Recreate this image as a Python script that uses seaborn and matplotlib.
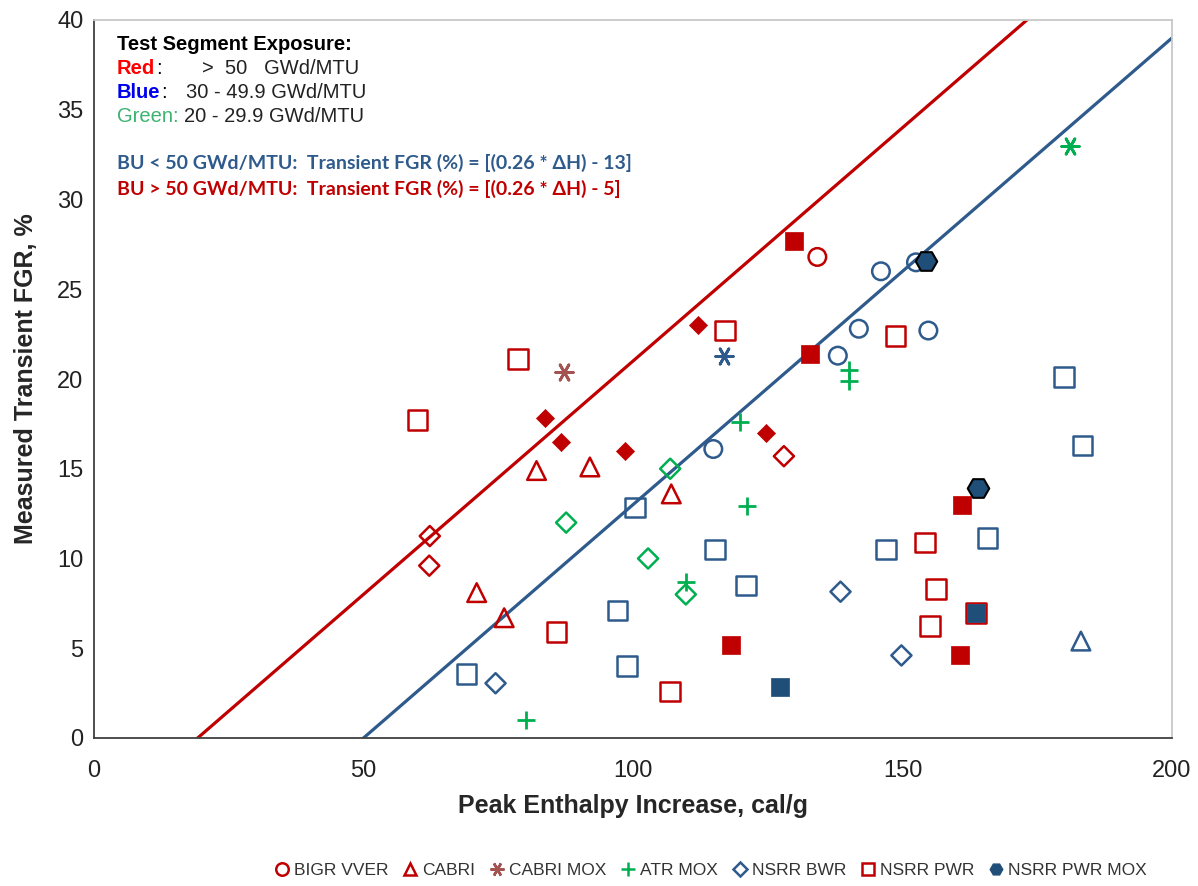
import numpy as np
import pandas as pd
import matplotlib
matplotlib.use("Agg")
import matplotlib.pyplot as plt
from matplotlib.lines import Line2D
import seaborn as sns

# ---------------- data ----------------
# exposure code: R = >50, B = 30-49.9, G = 20-29.9 GWd/MTU
bigr_x = [134.2, 146.0, 152.5, 141.9, 138.0, 154.8, 114.9]
bigr_y = [26.8, 26.0, 26.5, 22.8, 21.3, 22.7, 16.1]
bigr_c = ["R", "B", "B", "B", "B", "B", "B"]

cabri_x = [82.1, 92.0, 107.1, 71.0, 76.1, 183.1]
cabri_y = [14.9, 15.1, 13.6, 8.1, 6.7, 5.4]
cabri_c = ["R", "R", "R", "R", "R", "B"]

cabrimox_x = [87.2, 116.9, 181.1]
cabrimox_y = [20.4, 21.3, 33.0]
cabrimox_c = ["M", "B", "G"]

atr_x = [119.9, 121.2, 109.8, 80.1, 140.1, 140.1]
atr_y = [17.6, 12.9, 8.7, 1.0, 20.5, 19.9]
atr_c = ["G", "G", "G", "G", "G", "G"]

bwr_x = [62.3, 62.2, 128.0, 106.9, 87.6, 102.8, 109.8, 74.5, 138.5, 149.8]
bwr_y = [11.25, 9.6, 15.7, 15.0, 12.0, 10.0, 8.0, 3.05, 8.15, 4.6]
bwr_c = ["R", "R", "R", "G", "G", "G", "G", "B", "B", "B"]

pwr_x = [60.0, 78.7, 117.1, 148.7, 85.8, 106.9, 154.2, 156.2, 155.1, 163.6,
         100.4, 115.2, 121.0, 97.1, 69.1, 98.9, 146.9, 165.8, 180.0, 183.4]
pwr_y = [17.7, 21.1, 22.7, 22.4, 5.9, 2.6, 10.9, 8.3, 6.25, 6.95,
         12.85, 10.5, 8.5, 7.1, 3.55, 4.0, 10.5, 11.15, 20.1, 16.3]
pwr_c = ["R", "R", "R", "R", "R", "R", "R", "R", "R", "R",
         "B", "B", "B", "B", "B", "B", "B", "B", "B", "B"]

# filled symbols (not in legend)
fsq_x = [129.9, 132.8, 118.1, 161.0, 160.7, 127.3, 163.6]
fsq_y = [27.7, 21.4, 5.2, 13.0, 4.65, 2.85, 6.95]
fsq_c = ["R", "R", "R", "R", "R", "B", "B"]

fdi_x = [112.1, 83.7, 86.6, 98.6, 124.7]
fdi_y = [23.0, 17.8, 16.5, 16.0, 17.0]
fdi_c = ["R", "R", "R", "R", "R"]

pwrmox_x = [154.4, 164.1]
pwrmox_y = [26.6, 13.9]

# correlation lines: FGR = slope * dH + intercept
line_slope = 0.26
line_int_low = -13   # BU < 50
line_int_high = -5   # BU > 50

legend_labels = ["BIGR VVER", "CABRI", "CABRI MOX", "ATR MOX", "NSRR BWR",
                 "NSRR PWR", "NSRR PWR MOX"]

# ---------------- styling ----------------
RED = "#C00000"
BLUE = "#2E5A8C"
DBLUE = "#1F4E79"
GREEN = "#00B050"
MOXRED = "#A35450"
colmap = {"R": RED, "B": BLUE, "G": GREEN, "M": MOXRED}

sns.set_theme(style="white")
plt.rcParams["font.family"] = ["Liberation Sans", "DejaVu Sans"]

W, H = 1198, 886
fig = plt.figure(figsize=(W / 100, H / 100), dpi=100)
ax = fig.add_axes([94 / W, 1 - 738 / H, (1172 - 94) / W, (738 - 20) / H])


def open_series(xs, ys, cs, marker, s, lw=2.0):
    df = pd.DataFrame({"x": xs, "y": ys, "c": cs})
    for code, g in df.groupby("c"):
        sns.scatterplot(data=g, x="x", y="y", marker=marker, s=s,
                        facecolor="none", edgecolor=colmap[code],
                        linewidth=lw, ax=ax, legend=False, zorder=3)


def line_series(xs, ys, cs, marker, s, lw=2.0):
    df = pd.DataFrame({"x": xs, "y": ys, "c": cs})
    for code, g in df.groupby("c"):
        sns.scatterplot(data=g, x="x", y="y", marker=marker, s=s,
                        color=colmap[code], linewidth=lw, ax=ax,
                        legend=False, zorder=3)


def filled_series(xs, ys, cs, marker, s):
    df = pd.DataFrame({"x": xs, "y": ys, "c": cs})
    for code, g in df.groupby("c"):
        c = DBLUE if code == "B" else colmap[code]
        sns.scatterplot(data=g, x="x", y="y", marker=marker, s=s,
                        color=c, edgecolor=c, linewidth=0.5, ax=ax,
                        legend=False, zorder=4)


# lines
hh = np.linspace(0, 200, 401)
sns.lineplot(x=hh, y=line_slope * hh + line_int_high, color=RED, linewidth=2.3,
             ax=ax, zorder=2)
sns.lineplot(x=hh, y=line_slope * hh + line_int_low, color=BLUE, linewidth=2.3,
             ax=ax, zorder=2)

open_series(bigr_x, bigr_y, bigr_c, "o", 160, 1.8)
open_series(cabri_x, cabri_y, cabri_c, "^", 180, 1.8)
line_series(cabrimox_x, cabrimox_y, cabrimox_c, (6, 2, 90), 160, 2.0)
line_series(atr_x, atr_y, atr_c, "+", 180, 2.0)
open_series(bwr_x, bwr_y, bwr_c, "D", 105, 1.8)
open_series(pwr_x, pwr_y, pwr_c, "s", 200, 1.8)
filled_series(fsq_x, fsq_y, fsq_c, "s", 180)
filled_series(fdi_x, fdi_y, fdi_c, "D", 85)
sns.scatterplot(x=pwrmox_x, y=pwrmox_y, marker="H", s=240, color=DBLUE,
                edgecolor="black", linewidth=1.5, ax=ax, legend=False, zorder=5)

# axes
ax.set_xlim(0, 200)
ax.set_ylim(0, 40)
ax.set_xticks(np.arange(0, 201, 50))
ax.set_yticks(np.arange(0, 41, 5))
ax.set_xticks(np.arange(0, 201, 10), minor=True)
ax.set_yticks(np.arange(0, 41, 1), minor=True)
ax.tick_params(axis="both", which="major", direction="inout", length=9,
               width=1.0, color="#404040", labelsize=17, labelcolor="#222222")
ax.tick_params(axis="both", which="minor", direction="in", length=5,
               width=1.0, color="#404040")
ax.tick_params(axis="x", pad=11)
ax.tick_params(axis="y", pad=3)
for sp in ["left", "bottom"]:
    ax.spines[sp].set_color("#404040")
    ax.spines[sp].set_linewidth(1.3)
for sp in ["top", "right"]:
    ax.spines[sp].set_color("#C8C8C8")
    ax.spines[sp].set_linewidth(1.3)
ax.grid(False)

ax.set_xlabel("Peak Enthalpy Increase, cal/g", fontsize=18, fontweight="bold",
              labelpad=9)
ax.set_ylabel("Measured Transient FGR, %", fontsize=18, fontweight="bold",
              labelpad=14)


def ftxt(px, py, s, **kw):
    return fig.text(px / W, 1 - py / H, s, va="center", ha="left", **kw)


FS = 14.5
renderer = fig.canvas.get_renderer()


def after(t, py, s, gap=1, **kw):
    bb = t.get_window_extent(renderer=renderer)
    return ftxt(bb.x1 + gap, py, s, **kw)


ftxt(117, 44, "Test Segment Exposure:", fontsize=FS, fontweight="bold",
     color="black")
t = ftxt(117, 68, "Red", fontsize=FS, fontweight="bold", color="#FF0000")
after(t, 68, ":", fontsize=FS, color="black")
ftxt(202, 68, ">  50   GWd/MTU", fontsize=FS, color="#222222")
t = ftxt(117, 92, "Blue", fontsize=FS, fontweight="bold", color="#0000EE")
after(t, 92, ":", fontsize=FS, color="black")
ftxt(186, 92, "30 - 49.9 GWd/MTU", fontsize=FS, color="#222222")
ftxt(117, 116, "Green:", fontsize=FS, color="#3CB371")
ftxt(184, 116, "20 - 29.9 GWd/MTU", fontsize=FS, color="#222222")

eq_font = ["Lato", "DejaVu Sans"]
ftxt(117, 163, "BU < 50 GWd/MTU:  Transient FGR (%) = [(0.26 * ΔH) - 13]",
     fontsize=14, fontweight="bold", color="#2E5A8C", family=eq_font)
ftxt(117, 189, "BU > 50 GWd/MTU:  Transient FGR (%) = [(0.26 * ΔH) - 5]",
     fontsize=14, fontweight="bold", color="#C00000", family=eq_font)

# legend
handles = [
    Line2D([], [], marker="o", ls="", mfc="none", mec=RED, mew=1.8, ms=9),
    Line2D([], [], marker="^", ls="", mfc="none", mec=RED, mew=1.8, ms=9),
    Line2D([], [], marker=(6, 2, 90), ls="", color=MOXRED, mew=1.8, ms=10),
    Line2D([], [], marker="+", ls="", color=GREEN, mew=1.8, ms=10),
    Line2D([], [], marker="D", ls="", mfc="none", mec=BLUE, mew=1.8, ms=7),
    Line2D([], [], marker="s", ls="", mfc="none", mec=RED, mew=1.8, ms=9),
    Line2D([], [], marker="H", ls="", mfc=DBLUE, mec=DBLUE, mew=1, ms=9),
]
leg = fig.legend(handles, legend_labels, loc="center",
                 bbox_to_anchor=(711 / W, 1 - 870 / H),
                 ncol=7, frameon=False, handlelength=0.8,
                 handletextpad=0.3, columnspacing=0.85,
                 prop={"family": ["Liberation Sans", "DejaVu Sans"], "size": 12.5})
for txt in leg.get_texts():
    txt.set_color("#333333")

fig.savefig("out.png", dpi=100)
